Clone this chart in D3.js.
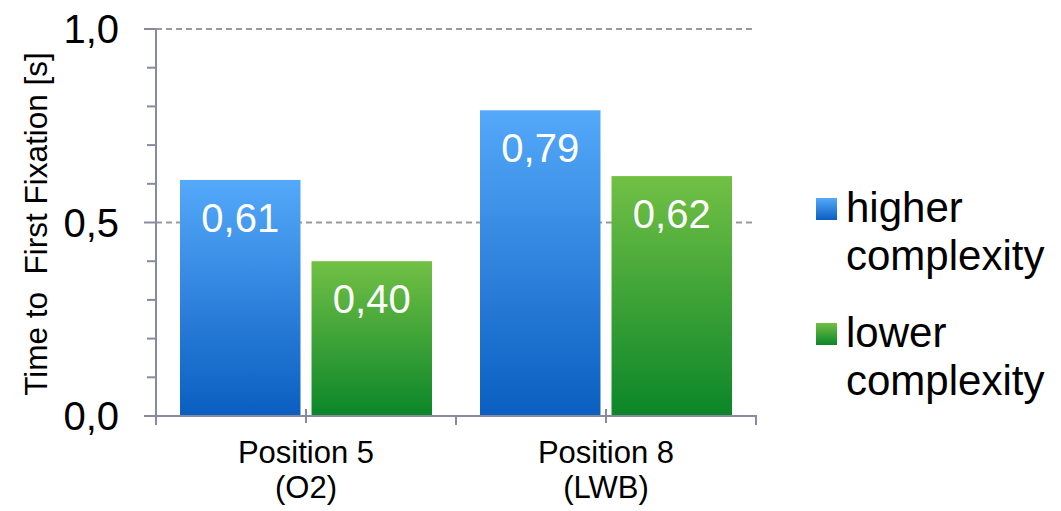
<!DOCTYPE html>
<html>
<head>
<meta charset="utf-8">
<script src="https://cdn.jsdelivr.net/npm/d3@7"></script>
<style>
  html, body { margin: 0; padding: 0; background: #fff; }
  svg { display: block; font-family: Arial, "Liberation Sans", sans-serif; }
</style>
</head>
<body>
<svg id="chart" width="1061" height="511"></svg>
<script>
// Chart data
const categories = ["Position 5\n(O2)", "Position 8\n(LWB)"];
const seriesNames = ["higher complexity", "lower complexity"];
const higherValues = [0.61, 0.79];
const lowerValues = [0.40, 0.62];
const yTicksMajor = [0, 0.5, 1.0];
const yTickLabels = ["0,0", "0,5", "1,0"];
const yTicksMinor = [0.1, 0.2, 0.3, 0.4, 0.6, 0.7, 0.8, 0.9];
const yTitle = "Time to  First Fixation [s]";
const legendLines = [["higher", "complexity"], ["lower", "complexity"]];

const seriesValues = [higherValues, lowerValues];
const fmt = v => d3.format(".2f")(v).replace(".", ",");

const svg = d3.select("#chart");
const axisColor = "#878ba2";

const gradStops = [
  { id: "gradBlue", top: "#55a9fa", bottom: "#0a5ec0" },
  { id: "gradGreen", top: "#72c045", bottom: "#0b8629" }
];
const defs = svg.append("defs");
gradStops.forEach(g => {
  const lg = defs.append("linearGradient")
    .attr("id", g.id).attr("x1", 0).attr("y1", 0).attr("x2", 0).attr("y2", 1);
  lg.append("stop").attr("offset", "0%").attr("stop-color", g.top);
  lg.append("stop").attr("offset", "100%").attr("stop-color", g.bottom);
});

// Scales
const y = d3.scaleLinear().domain([0, 1]).range([416, 29]);
const x = d3.scaleBand().domain(categories).range([156, 756]).padding(0);
const xSub = d3.scaleBand().domain(seriesNames).range([24, 276]).paddingInner(0.084);

// Dashed gridlines at the labelled ticks
svg.append("g").selectAll("line")
  .data(yTicksMajor.filter(d => d > 0))
  .join("line")
  .attr("x1", 156).attr("x2", 756)
  .attr("y1", d => y(d)).attr("y2", d => y(d))
  .attr("stroke", "#9a9a9a").attr("stroke-width", 2)
  .attr("stroke-dasharray", "6,4");

// Bars
const groups = svg.append("g").selectAll("g")
  .data(categories)
  .join("g")
  .attr("transform", d => `translate(${x(d)},0)`);

groups.each(function(cat, ci) {
  const g = d3.select(this);
  seriesNames.forEach((s, si) => {
    const v = seriesValues[si][ci];
    g.append("rect")
      .attr("x", xSub(s))
      .attr("y", y(v))
      .attr("width", xSub.bandwidth())
      .attr("height", y(0) - y(v))
      .attr("fill", `url(#${gradStops[si].id})`);
    g.append("text")
      .attr("x", xSub(s) + xSub.bandwidth() / 2)
      .attr("y", y(v) + 52)
      .attr("text-anchor", "middle")
      .attr("font-size", 40)
      .attr("fill", "#fff")
      .text(fmt(v));
  });
});

// Y axis
const yAxis = svg.append("g");
yAxis.append("line")
  .attr("x1", 156).attr("x2", 156).attr("y1", y(1)).attr("y2", 425)
  .attr("stroke", axisColor).attr("stroke-width", 2);
yAxis.selectAll(".major").data(yTicksMajor).join("line")
  .attr("x1", 144).attr("x2", 156)
  .attr("y1", d => y(d)).attr("y2", d => y(d))
  .attr("stroke", axisColor).attr("stroke-width", 2);
yAxis.selectAll(".minor").data(yTicksMinor).join("line")
  .attr("x1", 147).attr("x2", 156)
  .attr("y1", d => y(d)).attr("y2", d => y(d))
  .attr("stroke", axisColor).attr("stroke-width", 2);
yAxis.selectAll("text").data(yTicksMajor).join("text")
  .attr("x", 119)
  .attr("y", d => y(d))
  .attr("dy", "0.36em")
  .attr("text-anchor", "end")
  .attr("font-size", 40)
  .attr("fill", "#000")
  .text((d, i) => yTickLabels[i]);

// X axis
const xAxis = svg.append("g");
xAxis.append("line")
  .attr("x1", 144).attr("x2", 757).attr("y1", y(0)).attr("y2", y(0))
  .attr("stroke", axisColor).attr("stroke-width", 2);
const boundaries = categories.map(c => x(c)).concat([x.range()[1]]);
xAxis.selectAll(".bound").data(boundaries).join("line")
  .attr("x1", d => d).attr("x2", d => d)
  .attr("y1", y(0)).attr("y2", 425)
  .attr("stroke", axisColor).attr("stroke-width", 2);
xAxis.selectAll(".mid").data(categories).join("line")
  .attr("x1", d => x(d) + x.bandwidth() / 2).attr("x2", d => x(d) + x.bandwidth() / 2)
  .attr("y1", y(0) - 7).attr("y2", y(0) + 7)
  .attr("stroke", axisColor).attr("stroke-width", 2);

// Category labels: one text per line
const catLines = categories.flatMap(c =>
  c.split("\n").map((line, i) => ({ cat: c, line, i })));
xAxis.selectAll("text").data(catLines).join("text")
  .attr("x", d => x(d.cat) + x.bandwidth() / 2)
  .attr("y", d => 463 + d.i * 35)
  .attr("text-anchor", "middle")
  .attr("font-size", 31)
  .attr("fill", "#000")
  .text(d => d.line);

// Y axis title
svg.append("text")
  .attr("transform", "translate(47,224) rotate(-90)")
  .attr("text-anchor", "middle")
  .attr("font-size", 31.5)
  .attr("fill", "#000")
  .style("white-space", "pre")
  .text(yTitle);

// Legend
const legend = svg.append("g");
seriesNames.forEach((s, i) => {
  const top = 198 + i * 125;
  legend.append("rect")
    .attr("x", 816).attr("y", top)
    .attr("width", 21).attr("height", 22)
    .attr("fill", `url(#${gradStops[i].id})`);
  legendLines[i].forEach((line, j) => {
    legend.append("text")
      .attr("x", 846)
      .attr("y", top + 24 + j * 48)
      .attr("font-size", 42)
      .attr("fill", "#000")
      .text(line);
  });
});
</script>
</body>
</html>
